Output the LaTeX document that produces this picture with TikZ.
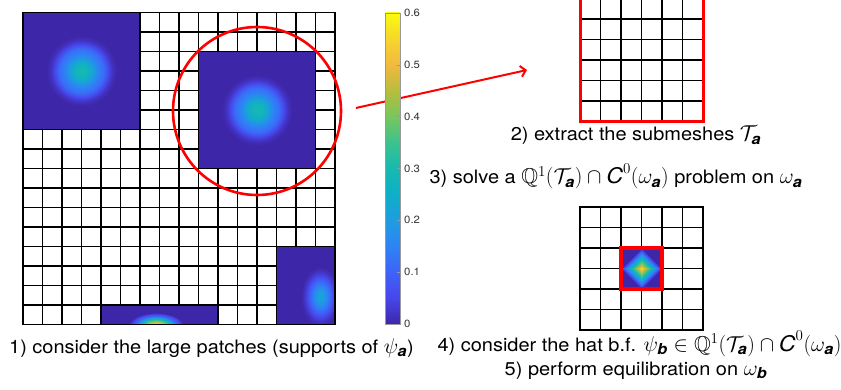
\documentclass[tikz,border=0pt]{standalone}
\usepackage{fix-cm}
\usepackage{amsmath,amssymb}
\usepackage{fontspec}
\setmainfont{TeX Gyre Heros}[FakeStretch=1.08]
\usetikzlibrary{arrows.meta}
\definecolor{pa0}{HTML}{3E26A8}
\definecolor{pa1}{HTML}{4747EB}
\definecolor{pa2}{HTML}{3F62F8}
\definecolor{pa3}{HTML}{2D84F4}
\definecolor{pa4}{HTML}{1F9CE0}
\definecolor{pa5}{HTML}{0DAFC8}
\definecolor{pa6}{HTML}{17B9B0}
\definecolor{pa7}{HTML}{3CC28E}
\definecolor{pa8}{HTML}{78C65D}
\definecolor{pa9}{HTML}{B8BD3C}
\definecolor{pa10}{HTML}{F2B940}
\definecolor{pa11}{HTML}{F6D62C}
\definecolor{pa12}{HTML}{F9FB0E}
\pgfdeclareverticalshading{parula}{100bp}{color(0bp)=(pa0); color(25bp)=(pa0); color(29.17bp)=(pa1);
 color(33.33bp)=(pa2); color(37.5bp)=(pa3); color(41.67bp)=(pa4); color(45.83bp)=(pa5); color(50bp)=(pa6);
 color(54.17bp)=(pa7); color(58.33bp)=(pa8); color(62.5bp)=(pa9); color(66.67bp)=(pa10); color(70.83bp)=(pa11);
 color(75bp)=(pa12); color(100bp)=(pa12)}
\pgfdeclareradialshading{bumpA}{\pgfpointorigin}{color(0bp)=(pa6); color(2.5bp)=(pa6!50!pa5); color(4.5bp)=(pa5!50!pa4);
 color(7bp)=(pa3); color(9.5bp)=(pa2!70!pa3); color(11.5bp)=(pa1); color(13bp)=(pa0!60!pa1); color(15bp)=(pa0); color(50bp)=(pa0)}
\pgfdeclareradialshading{bumpB}{\pgfpointorigin}{color(0bp)=(pa4!60!pa5); color(3bp)=(pa4); color(6bp)=(pa3);
 color(9bp)=(pa2); color(11.5bp)=(pa1); color(14bp)=(pa0!60!pa1); color(16.5bp)=(pa0); color(50bp)=(pa0)}
\pgfdeclareradialshading{bumpC}{\pgfpointorigin}{color(0bp)=(pa11!60!pa12); color(4bp)=(pa10); color(8bp)=(pa8);
 color(11bp)=(pa6); color(14bp)=(pa4); color(17bp)=(pa2); color(20bp)=(pa1); color(22.5bp)=(pa0); color(50bp)=(pa0)}
\pgfdeclareverticalshading{ridge}{100bp}{color(0bp)=(pa11); color(14.64bp)=(pa11); color(17.86bp)=(pa10);
 color(21.07bp)=(pa9); color(24.29bp)=(pa8); color(27.5bp)=(pa7); color(30.71bp)=(pa6); color(33.93bp)=(pa5);
 color(37.14bp)=(pa4); color(40.36bp)=(pa3); color(43.57bp)=(pa2); color(46.79bp)=(pa1); color(50bp)=(pa0);
 color(100bp)=(pa0)}
\newcommand{\va}{\text{\bfseries\itshape a}}
\newcommand{\vb}{\text{\bfseries\itshape b}}
\newcommand{\Ta}{\mathcal{T}_{\va}}
\newcommand{\Qa}{\mathbb{Q}^1(\Ta)\cap\text{\itshape C}^0(\omega_{\va})}
\newcommand{\mth}[1]{{\fontsize{21.5}{24}\selectfont$#1$}}
\begin{document}
\begin{tikzpicture}[x=1pt,y=1pt,>={Straight Barb[length=5pt,width=11pt]},
 mesh/.style={line width=1.8pt},
 lbl/.style={font=\fontsize{18.5}{22}\selectfont,anchor=base,inner sep=0pt},
 tk/.style={font=\fontsize{10.5}{12}\selectfont,text=black!80,anchor=west,inner sep=0pt}]
 \useasboundingbox (0,0) rectangle (841,389);
 \begin{scope}[shift={(23,64.5)},x=19.5pt,y=19.5pt]
  \foreach \i in {1,...,15} \draw[mesh] (\i,0) -- (\i,16) (0,\i) -- (16,\i);
  \fill[pa0] (0,10) rectangle (6,16) (9,8) rectangle (15,14) (13,0) rectangle (16,4) (4,0) rectangle (10,1);
  \shade[shading=bumpA] (0,10) rectangle (6,16);
  \shade[shading=bumpA] (9,8) rectangle (15,14);
  \begin{scope}
   \clip (13,0) rectangle (16,4);
   \shade[shading=bumpB] (13.75,-0.87) rectangle (16.75,3.73);
  \end{scope}
  \begin{scope}
   \clip (4,0) rectangle (10,1);
   \shade[shading=bumpC] (5.28,-0.77) rectangle (8.36,0.67);
  \end{scope}
  \draw[mesh] (0,10) rectangle (6,16) (9,8) rectangle (15,14) (13,0) rectangle (16,4) (4,0) rectangle (10,1)
   (0,0) rectangle (16,16);
 \end{scope}
 \node[circle,draw=red,line width=2.6pt,minimum size=168pt,inner sep=0pt] (lens) at (257,278) {};
 \coordinate (tip) at (527,319);
 \draw[->,red,line width=2pt,shorten <=14pt] (lens.east) -- (tip);
 \shade[shading=parula] (385,65) rectangle (400,376);
 \draw[black!40,line width=0.6pt] (385,65) rectangle (400,376);
 \draw[black!40,line width=0.6pt] (400,116.83) -- ++(-3,0) (400,168.67) -- ++(-3,0) (400,220.5) -- ++(-3,0)
  (400,272.33) -- ++(-3,0) (400,324.17) -- ++(-3,0);
 \node[tk] (t0) at (404,65) {0};
 \node[tk] (t1) at (404,116.83) {0.1};
 \node[tk] (t2) at (404,168.67) {0.2};
 \node[tk] (t3) at (404,220.5) {0.3};
 \node[tk] (t4) at (404,272.33) {0.4};
 \node[tk] (t5) at (404,324.17) {0.5};
 \node[tk] (t6) at (404,376) {0.6};
 \begin{scope}[shift={(580,267.5)},x=20.5pt,y=20.5pt]
  \foreach \i in {1,...,5} \draw[mesh] (\i,0) -- (\i,6) (0,\i) -- (6,\i);
  \draw[red,line width=3pt] (0,0) rectangle (6,6);
 \end{scope}
 \begin{scope}[shift={(580,59)},x=20.5pt,y=20.5pt]
  \foreach \i in {1,...,5} \draw[mesh] (\i,0) -- (\i,6) (0,\i) -- (6,\i);
  \draw[mesh] (0,0) rectangle (6,6);
  \fill[pa0] (2,2) rectangle (4,4);
  \shade[shading=ridge,shading angle=-45] (3,3) rectangle (4,4);
  \shade[shading=ridge,shading angle=45] (2,3) rectangle (3,4);
  \shade[shading=ridge,shading angle=135] (2,2) rectangle (3,3);
  \shade[shading=ridge,shading angle=-135] (3,2) rectangle (4,3);
  \draw[red,line width=3.4pt] (2,2) rectangle (4,4);
 \end{scope}
 \node[lbl,anchor=base west] (s1) at (9,36) {1) consider the large patches (supports of \mth{\psi_{\va}})};
 \node[lbl] (s2) at (636,248) {2) extract the submeshes \mth{\Ta}};
 \node[lbl] (s3) at (616,205) {3) solve a \mth{\Qa} problem on \mth{\omega_{\va}}};
 \node[lbl] (s4) at (639.5,38) {4) consider the hat b.f. \mth{\psi_{\vb}\in\Qa}};
 \node[lbl] (s5) at (636,14) {5) perform equilibration on \mth{\omega_{\vb}}};
\end{tikzpicture}
\end{document}
